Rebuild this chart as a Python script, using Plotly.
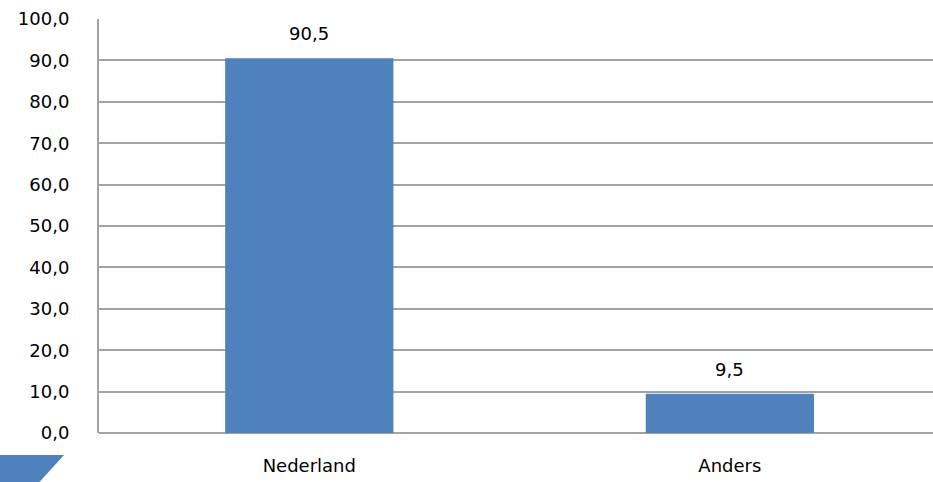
import plotly.graph_objects as go

categories = ["Nederland", "Anders"]
values = [90.5, 9.5]
y_ticks = [0, 10, 20, 30, 40, 50, 60, 70, 80, 90, 100]

BAR = "#4F81BD"
GRID = "#A3A3A3"
FONT = "DejaVu Sans, sans-serif"
FS = 18

fig = go.Figure()
fig.add_trace(go.Bar(x=categories, y=values, marker=dict(color=BAR, line=dict(width=0)),
                     width=0.4, hoverinfo="skip"))

for c, v in zip(categories, values):
    fig.add_annotation(x=c, y=v, text=f"{v:.1f}".replace(".", ","), showarrow=False,
                       yanchor="bottom", yshift=12, font=dict(family=FONT, size=FS, color="#000"))

# decorative shape at bottom-left
fig.add_shape(type="path", xref="paper", yref="paper",
              path="M -0.2 -0.0531 L -0.042 -0.0531 L -0.09 -0.16 L -0.2 -0.16 Z",
              fillcolor=BAR, line=dict(width=0), layer="above")

fig.update_layout(
    width=933, height=482,
    margin=dict(l=99, r=0, t=19, b=49),
    paper_bgcolor="white", plot_bgcolor="white",
    separators=",.",
    showlegend=False,
    font=dict(family=FONT, size=FS, color="#000"),
    bargap=0.6,
)
fig.update_xaxes(range=[-0.5, 1.483], showgrid=False, showline=False, ticks="",
                 ticklabelstandoff=20, tickfont=dict(family=FONT, size=FS))
fig.update_yaxes(range=[0, 100], tickvals=y_ticks, tickformat=".1f", showgrid=True,
                 gridcolor=GRID, gridwidth=2, showline=True, linecolor=GRID, linewidth=2,
                 ticks="", ticklabelstandoff=24, zeroline=True, zerolinecolor=GRID, zerolinewidth=2,
                 tickfont=dict(family=FONT, size=FS))

fig.write_html("out.html", config={"displayModeBar": False, "staticPlot": True},
               post_script="document.body.style.margin='0';document.body.style.overflow='hidden';")
